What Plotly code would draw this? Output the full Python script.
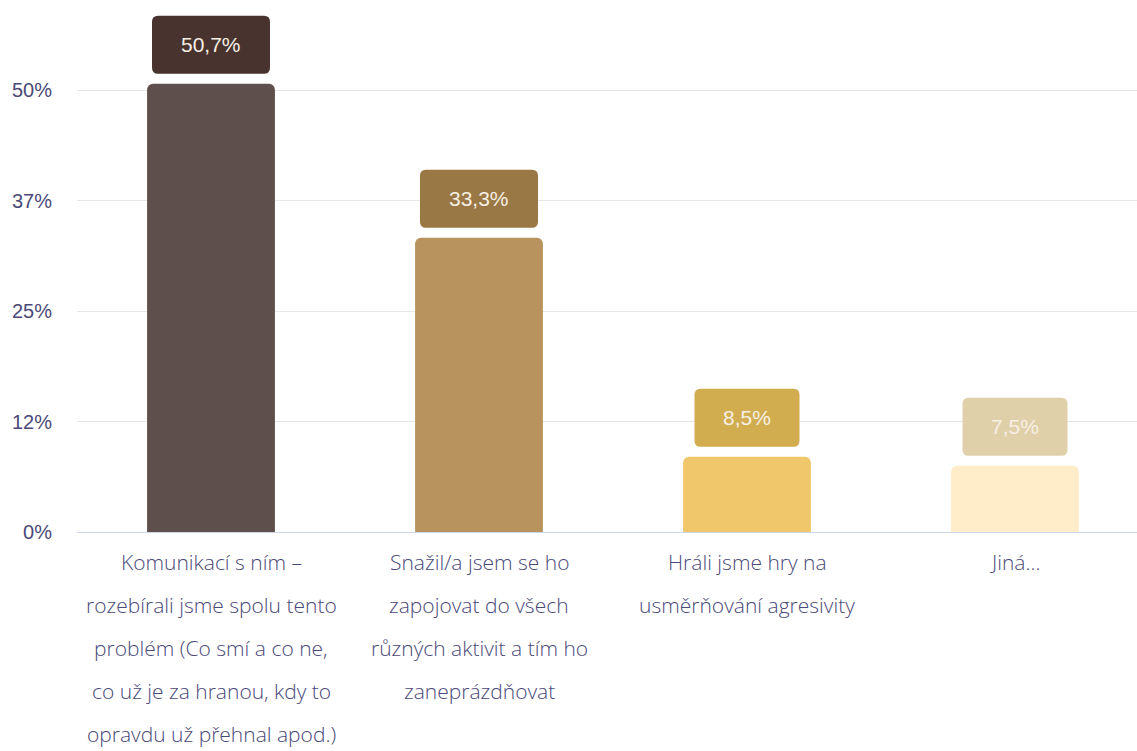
import plotly.graph_objects as go

# Survey answers (share of respondents, %)
categories = [
    "Komunikací s ním – rozebírali jsme spolu tento problém (Co smí a co ne, co už je za hranou, kdy to opravdu už přehnal apod.)",
    "Snažil/a jsem se ho zapojovat do všech různých aktivit a tím ho zaneprázdňovat",
    "Hráli jsme hry na usměrňování agresivity",
    "Jiná...",
]
category_lines = [
    ["Komunikací s ním –", "rozebírali jsme spolu tento", "problém (Co smí a co ne,",
     "co už je za hranou, kdy to", "opravdu už přehnal apod.)"],
    ["Snažil/a jsem se ho", "zapojovat do všech", "různých aktivit a tím ho", "zaneprázdňovat"],
    ["Hráli jsme hry na", "usměrňování agresivity"],
    ["Jiná..."],
]
values = [50.7, 33.3, 8.5, 7.5]
value_labels = ["50,7%", "33,3%", "8,5%", "7,5%"]
tick_values = [0, 12.5, 25, 37.5, 50]
tick_labels = ["0%", "12%", "25%", "37%", "50%"]

bar_colors = ["#5e4f4c", "#b9935e", "#f0c86b", "#feedc8"]
badge_colors = ["#48332f", "#9a7845", "#d2ad50", "#e0d0a9"]

W, H = 1137, 751
M_L, M_B = 77, 219
plot_h = H - M_B
px_per_unit = 8.84          # vertical pixels per percentage point
cat_px = 268                # horizontal pixels per category slot

x_idx = list(range(len(categories)))

fig = go.Figure()
fig.add_trace(go.Bar(
    x=x_idx, y=values,
    width=0.477,
    marker=dict(color=bar_colors, line=dict(width=0), cornerradius=6),
    hoverinfo="skip",
))

label_font = "Liberation Sans Narrow, Liberation Sans, Arial, sans-serif"

# Rounded value badges floating above each bar
shapes = []
annotations = []
gap, bh, r = 10, 58, 6
for i, (v, lab, col) in enumerate(zip(values, value_labels, badge_colors)):
    bw = 53 + 13 * len(lab)
    x0, x1 = -bw / 2, bw / 2
    y0, y1 = gap, gap + bh
    path = (f"M{x0 + r},{y0} L{x1 - r},{y0} Q{x1},{y0} {x1},{y0 + r} "
            f"L{x1},{y1 - r} Q{x1},{y1} {x1 - r},{y1} L{x0 + r},{y1} "
            f"Q{x0},{y1} {x0},{y1 - r} L{x0},{y0 + r} Q{x0},{y0} {x0 + r},{y0} Z")
    shapes.append(dict(
        type="path", path=path, xref="x", yref="y",
        xsizemode="pixel", ysizemode="pixel", xanchor=i, yanchor=v,
        fillcolor=col, line=dict(width=0), layer="above",
    ))
    annotations.append(dict(
        x=i, y=v, xref="x", yref="y", text=lab, showarrow=False,
        yanchor="middle", yshift=gap + bh / 2,
        font=dict(family=label_font, size=21, color="#f6efe4"),
    ))

# Category labels under the axis, one line per annotation
line_step = 43
for i, lines in enumerate(category_lines):
    for k, line in enumerate(lines):
        annotations.append(dict(
            x=i, y=0, xref="x", yref="paper", text=line, showarrow=False,
            yanchor="middle", yshift=-(30 + line_step * k),
            font=dict(family="Open Sans, sans-serif", size=21, weight=300,
                      color="#4a4979"),
        ))

fig.update_layout(
    width=W, height=H,
    margin=dict(l=M_L, r=0, t=0, b=M_B, pad=0),
    paper_bgcolor="white", plot_bgcolor="white",
    showlegend=False,
    shapes=shapes,
    annotations=annotations,
    xaxis=dict(
        range=[-0.5, -0.5 + (W - M_L) / cat_px],
        showticklabels=False, showgrid=False, zeroline=False,
        showline=True, linecolor="#ccd6eb", linewidth=1, ticks="",
        fixedrange=True,
    ),
    yaxis=dict(
        range=[0, plot_h / px_per_unit],
        tickvals=tick_values, ticktext=tick_labels,
        tickfont=dict(family=label_font, size=20, color="#4b4a78"),
        showgrid=True, gridcolor="#e6e6e6", gridwidth=1,
        zeroline=False, showline=False, ticks="",
        ticklabelstandoff=24, fixedrange=True,
    ),
)

fig.write_html("out.html", config={"displayModeBar": False})
